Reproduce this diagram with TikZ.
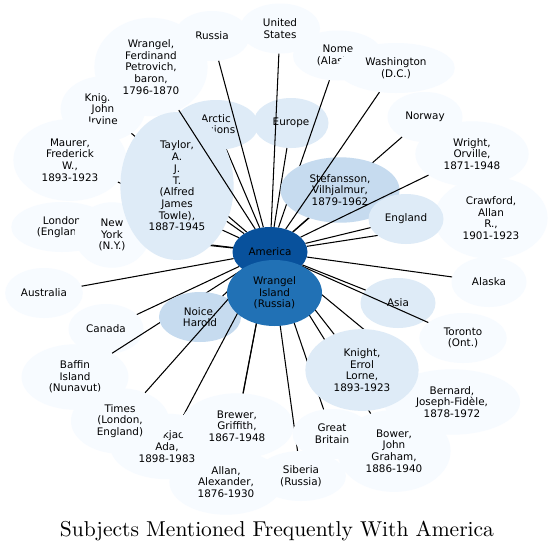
\documentclass[tikz,border=0pt]{standalone}
\usepackage{fontspec}
\usepackage{graphicx}
\usetikzlibrary{shapes.geometric}
\newfontfamily\gvfamily{DejaVu Sans}
\definecolor{bpale}{HTML}{F7FBFF}
\definecolor{blite}{HTML}{DEEBF7}
\definecolor{bmid}{HTML}{C6DBEF}
\definecolor{bwi}{HTML}{2171B5}
\definecolor{bam}{HTML}{08519C}
\pgfdeclarelayer{front}
\pgfsetlayers{main,front}
\tikzset{
  gvn/.style={ellipse, draw=none, inner sep=0pt, align=center,
    font=\gvfamily\fontsize{10.4}{11.7}\selectfont},
  gve/.style={draw=black, line width=1.05pt}
}
\newcommand{\gv}[7]{\node[gvn, fill=#6, minimum width=2*#4, minimum height=2*#5] (#1) at (#2,#3) {#7};}
\newcommand{\gvedge}[1]{\draw[gve] (am) -- (#1);}
\begin{document}
\begin{tikzpicture}[x=1pt,y=-1pt]
\useasboundingbox (0,0) rectangle (555,552);
\fill[white] (0,0) rectangle (555,552);
\begin{pgfonlayer}{front}
\gv{am}{270}{252}{37.5}{25}{bam}{America}
\gv{wi}{274.5}{293}{47.5}{33}{bwi}{Wrangel\\Island\\(Russia)}
\end{pgfonlayer}
\gv{arc}{216}{125}{42.4}{25}{blite}{Arctic\\regions}\gvedge{arc}
\gv{eur}{291}{123}{37.5}{25}{blite}{Europe}\gvedge{eur}
\gv{rus}{212}{36}{37.5}{25}{bpale}{Russia}\gvedge{rus}
\gv{us}{280}{28.5}{40}{25}{bpale}{United\\States}\gvedge{us}
\gv{kji}{103}{109}{42.3}{32.7}{bpale}{Knight,\\John\\Irvine}\gvedge{kji}
\gv{wf}{151}{67}{56.6}{49.2}{bpale}{Wrangel,\\Ferdinand\\Petrovich,\\baron,\\1796-1870}
\gv{mau}{70}{160}{56.6}{40.9}{bpale}{Maurer,\\Frederick\\W.,\\1893-1923}\gvedge{mau}
\gv{lon}{62}{227}{50.7}{25}{bpale}{London\\(England)}\gvedge{lon}
\gv{ny}{112}{235}{37.5}{32.7}{bpale}{New\\York\\(N.Y.)}\gvedge{ny}
\gv{tay}{177}{186}{56.6}{74}{blite}{Taylor,\\A.\\J.\\T.\\(Alfred\\James\\Towle),\\1887-1945}\gvedge{tay}
\gvedge{wf}
\gv{nor}{425}{117}{37.5}{25}{bpale}{Norway}\gvedge{nor}
\gv{nome}{338}{55.5}{45}{25}{bpale}{Nome\\(Alaska)}\gvedge{nome}
\gv{ste}{340}{190}{59.5}{32.7}{bmid}{Stefansson,\\Vilhjalmur,\\1879-1962}\gvedge{ste}
\gv{was}{396}{68}{58.8}{25}{bpale}{Washington\\(D.C.)}\gvedge{was}
\gv{wri}{472}{154}{56.6}{32.7}{bpale}{Wright,\\Orville,\\1871-1948}\gvedge{wri}
\gv{cra}{491}{218}{56.6}{40.9}{bpale}{Crawford,\\Allan\\R.,\\1901-1923}\gvedge{cra}
\gv{eng}{406}{219}{37.5}{25}{blite}{England}\gvedge{eng}
\gv{ala}{489}{282}{37.5}{25}{bpale}{Alaska}\gvedge{ala}
\gv{asi}{398}{303}{37.5}{25}{blite}{Asia}\gvedge{asi}
\gv{tor}{463}{338}{43.7}{25}{bpale}{Toronto\\(Ont.)}\gvedge{tor}
\gv{aus}{44}{293}{38.8}{25}{bpale}{Australia}\gvedge{aus}
\gv{can}{106}{329}{37.5}{25}{bpale}{Canada}\gvedge{can}
\gv{baf}{75}{377}{53.4}{32.7}{bpale}{Baffin\\Island\\(Nunavut)}\gvedge{baf}
\gv{noi}{200}{317}{41}{25}{bmid}{Noice,\\Harold}\gvedge{noi}
\gv{all}{226}{482}{56.6}{32.7}{bpale}{Allan,\\Alexander,\\1876-1930}\gvedge{all}
\gv{bla}{167}{446.5}{56.6}{32.7}{bpale}{Blackjack,\\Ada,\\1898-1983}\gvedge{bla}
\gv{tim}{120}{421}{49}{32.7}{bpale}{Times\\(London,\\England)}\gvedge{tim}
\gv{bre}{237}{426}{56.6}{32.7}{bpale}{Brewer,\\Griffith,\\1867-1948}\gvedge{bre}
\gv{sib}{301}{476}{44.9}{25}{bpale}{Siberia\\(Russia)}\gvedge{sib}
\gv{bow}{394}{451}{56.6}{40.9}{bpale}{Bower,\\John\\Graham,\\1886-1940}\gvedge{bow}
\gv{gb}{332}{434}{39.4}{25}{bpale}{Great\\Britain}\gvedge{gb}
\gv{ber}{452}{402}{68}{32.7}{bpale}{Bernard,\\Joseph-Fidèle,\\1878-1972}\gvedge{ber}
\gv{kel}{362}{370}{56.6}{40.9}{blite}{Knight,\\Errol\\Lorne,\\1893-1923}\gvedge{kel}
\node[anchor=base] (title) at (277,536.5) {\resizebox{434pt}{!}{Subjects Mentioned Frequently With America}};
\end{tikzpicture}
\end{document}
